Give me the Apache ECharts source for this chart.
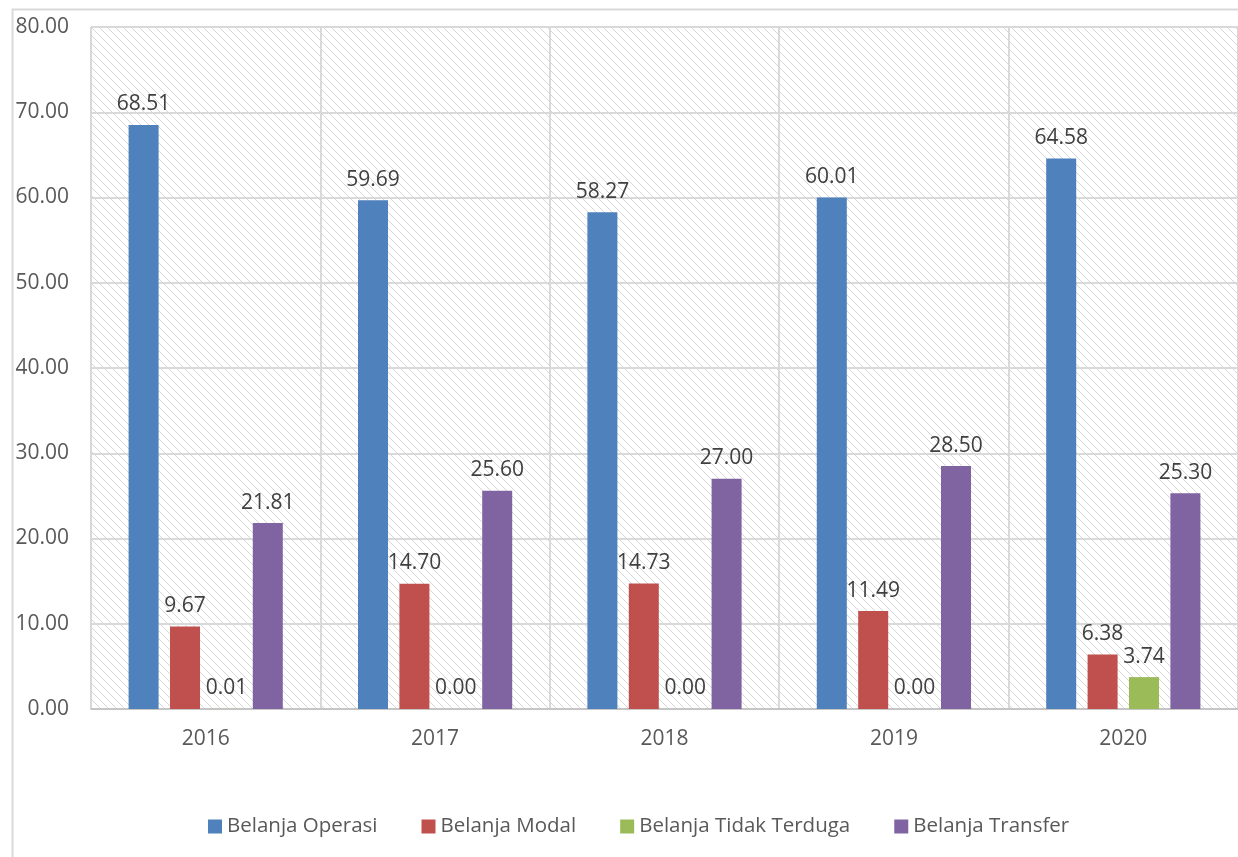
<!DOCTYPE html>
<html><head><meta charset="utf-8">
<script src="https://cdn.jsdelivr.net/npm/echarts@6/dist/echarts.min.js"></script>
<style>html,body{margin:0;padding:0;background:#fff}#c{width:1238px;height:857px}</style>
</head><body><div id="c"></div>
<script>
const categories = ['2016','2017','2018','2019','2020'];
const belanjaOperasi = [68.51, 59.69, 58.27, 60.01, 64.58];
const belanjaModal = [9.67, 14.70, 14.73, 11.49, 6.38];
const belanjaTidakTerduga = [0.01, 0.00, 0.00, 0.00, 3.74];
const belanjaTransfer = [21.81, 25.60, 27.00, 28.50, 25.30];
const seriesNames = ['Belanja Operasi','Belanja Modal','Belanja Tidak Terduga','Belanja Transfer'];
const colors = ['#4f81bd','#c0504d','#9bbb59','#8064a2'];

const tile = document.createElement('canvas');
tile.width = 8; tile.height = 8;
const tc = tile.getContext('2d');
tc.fillStyle = '#ffffff'; tc.fillRect(0,0,8,8);
tc.fillStyle = '#d6d6d6';
for (let i = 0; i < 8; i++) { tc.fillRect(i, i, 1, 1); }

const chart = echarts.init(document.getElementById('c'));
const font = "'Open Sans', 'Noto Sans', sans-serif";
function mk(name, data, color) {
  return {
    name, type: 'bar', data, barWidth: 30, barGap: '38%',
    itemStyle: { color },
    label: { show: true, position: 'top', distance: 10, formatter: p => p.value.toFixed(2),
      color: '#404040', fontSize: 21, fontFamily: font }
  };
}
chart.setOption({
  animation: false,
  backgroundColor: '#fff',
  graphic: [{ type: 'rect', left: 10, top: 7, shape: { width: 1240, height: 870 },
    style: { fill: 'none', stroke: '#d9d9d9', lineWidth: 2 }, silent: true }],
  grid: { left: 91, top: 27, width: 1153, height: 682, show: true,
    backgroundColor: { image: tile, repeat: 'repeat' }, borderWidth: 0 },
  legend: { top: 811, left: 203, itemWidth: 14, itemHeight: 14, itemGap: 44,
    icon: 'rect', textStyle: { color: '#595959', fontSize: 20.5, fontFamily: font },
    data: seriesNames },
  xAxis: { type: 'category', data: categories,
    axisLine: { lineStyle: { color: '#bfbfbf', width: 1.5 } }, axisTick: { show: false },
    axisLabel: { color: '#595959', fontSize: 21, fontFamily: font, margin: 20 },
    splitLine: { show: true, lineStyle: { color: '#d9d9d9', width: 2 } } },
  yAxis: { type: 'value', min: 0, max: 80, interval: 10,
    axisLine: { show: false }, axisTick: { show: false },
    axisLabel: { color: '#595959', fontSize: 21, fontFamily: font, margin: 22, formatter: v => v.toFixed(2) },
    splitLine: { lineStyle: { color: '#d9d9d9', width: 2 } } },
  series: [
    mk(seriesNames[0], belanjaOperasi, colors[0]),
    mk(seriesNames[1], belanjaModal, colors[1]),
    mk(seriesNames[2], belanjaTidakTerduga, colors[2]),
    mk(seriesNames[3], belanjaTransfer, colors[3])
  ]
});
</script></body></html>
